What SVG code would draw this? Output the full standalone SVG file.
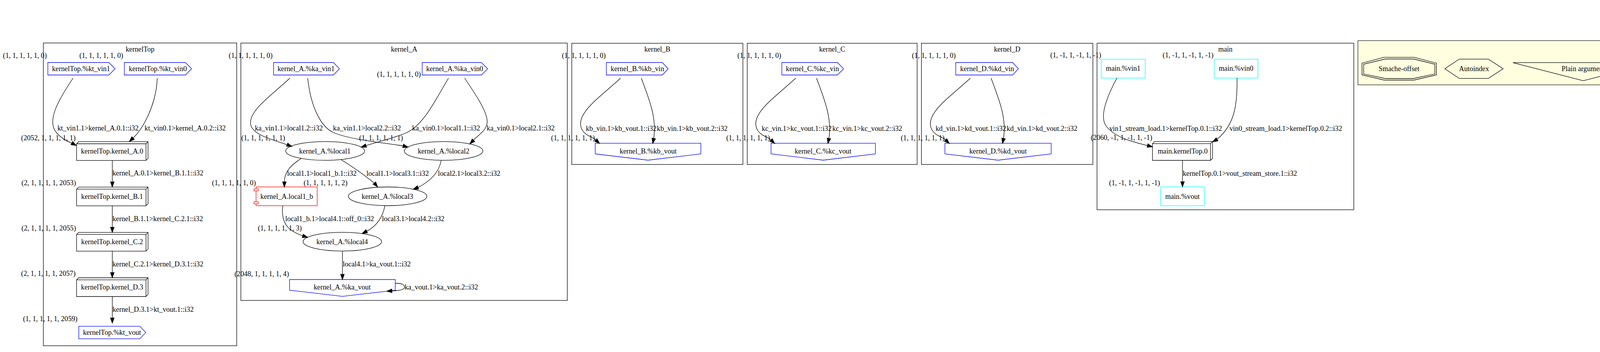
<svg xmlns="http://www.w3.org/2000/svg" width="6599" height="901" viewBox="0 0 6599 901">
<style>
.t{font-family:"Liberation Serif","Times New Roman",Times,serif;font-size:18.2px;fill:#000}
.m{text-anchor:middle}
.e{text-anchor:end}
.cl{fill:none;stroke:#000;stroke-width:1.3}
.ed{fill:none;stroke:#000;stroke-width:1.3}
.ah{fill:#000;stroke:#000;stroke-width:1.3}
.bl{fill:#fff;stroke:#0000ff;stroke-width:1.3}
.cy{fill:#fff;stroke:#00ffff;stroke-width:1.3}
.rd{fill:#fff;stroke:#ff0000;stroke-width:1.3}
.bk{fill:#fff;stroke:#000;stroke-width:1.3}
.ln{fill:none;stroke:#000;stroke-width:1.3}
.lg{fill:none;stroke:#000;stroke-width:1.3}
</style>
<rect x="0" y="0" width="6599" height="901" fill="#fff"/>

<!-- clusters -->
<g id="cluster-kernelTop"><rect class="cl" x="111" y="110" width="495" height="775"/><text class="t m" x="358.5" y="131.5">kernelTop</text></g>
<g id="cluster-kernel_A"><rect class="cl" x="616.6" y="110.3" width="835.7" height="658.7"/><text class="t m" x="1034.5" y="131.5">kernel_A</text></g>
<g id="cluster-kernel_B"><rect class="cl" x="1463.7" y="110.7" width="438.1" height="310.3"/><text class="t m" x="1682.8" y="131.5">kernel_B</text></g>
<g id="cluster-kernel_C"><rect class="cl" x="1912.9" y="110.7" width="434.9" height="310.3"/><text class="t m" x="2130.3" y="131.5">kernel_C</text></g>
<g id="cluster-kernel_D"><rect class="cl" x="2358.9" y="110.7" width="438.8" height="310.3"/><text class="t m" x="2578.3" y="131.5">kernel_D</text></g>
<g id="cluster-main"><rect class="cl" x="2808.4" y="110.5" width="657.3" height="426.4"/><text class="t m" x="3137" y="131.5">main</text></g>
<g id="cluster-legend"><rect x="3476.3" y="104" width="1712.1" height="113.3" fill="#ffffe0" stroke="#222" stroke-width="1.3"/><text class="t m" x="4332.4" y="125.3">Legend</text></g>
<g id="cluster-notes"><rect x="5199.2" y="15.3" width="1383.6" height="289.7" fill="#ffb6c1" stroke="#222" stroke-width="1.3"/><text class="t m" x="5891" y="36.7">Notes</text></g>

<!-- kernelTop nodes -->
<g id="kernelTop_kt_vin1"><polygon class="bl" points="122.5,160 278.6,160 294.7,176 278.6,192 122.5,192"/><text class="t m" x="207.6" y="182">kernelTop.%kt_vin1</text><text class="t m" x="63.7" y="147.5">(1, 1, 1, 1, 1, 0)</text></g>
<g id="kernelTop_kt_vin0"><polygon class="bl" points="318.4,160 474.6,160 490.6,176 474.6,192 318.4,192"/><text class="t m" x="404" y="182">kernelTop.%kt_vin0</text><text class="t m" x="259.3" y="147.5">(1, 1, 1, 1, 1, 0)</text></g>
<g id="kernelTop_kernel_A_0"><polygon class="bk" points="196,368 201.3,362.7 379,362.7 379,405.4 373.7,410.7 196,410.7"/><path class="ln" d="M196,368H373.7L379,362.7M373.7,368V410.7"/><text class="t m" x="287" y="392.7">kernelTop.kernel_A.0</text><text class="t m" x="123.8" y="358.5">(2052, 1, 1, 1, 1, 1)</text></g>
<g id="kernelTop_kernel_B_1"><polygon class="bk" points="196,484.1 201.3,478.8 379,478.8 379,521.5 373.7,526.8 196,526.8"/><path class="ln" d="M196,484.1H373.7L379,478.8M373.7,484.1V526.8"/><text class="t m" x="287" y="508.8">kernelTop.kernel_B.1</text><text class="t m" x="124.8" y="474">(2, 1, 1, 1, 1, 2053)</text></g>
<g id="kernelTop_kernel_C_2"><polygon class="bk" points="196,600.2 201.3,594.9 379,594.9 379,637.6 373.7,642.9 196,642.9"/><path class="ln" d="M196,600.2H373.7L379,594.9M373.7,600.2V642.9"/><text class="t m" x="287" y="624.9">kernelTop.kernel_C.2</text><text class="t m" x="124.8" y="590">(2, 1, 1, 1, 1, 2055)</text></g>
<g id="kernelTop_kernel_D_3"><polygon class="bk" points="196,716.3 201.3,711 379,711 379,753.7 373.7,759 196,759"/><path class="ln" d="M196,716.3H373.7L379,711M373.7,716.3V759"/><text class="t m" x="287" y="741">kernelTop.kernel_D.3</text><text class="t m" x="123.8" y="706">(2, 1, 1, 1, 1, 2057)</text></g>
<g id="kernelTop_kt_vout"><polygon class="bl" points="201.7,835.1 357.8,835.1 373.1,851.1 357.8,867.1 201.7,867.1"/><text class="t m" x="286.8" y="857">kernelTop.%kt_vout</text><text class="t m" x="128.7" y="822">(1, 1, 1, 1, 1, 2059)</text></g>

<!-- kernel_A nodes -->
<g id="kernel_A_ka_vin1"><polygon class="bl" points="700.4,160 853.6,160 869,176 853.6,192 700.4,192"/><text class="t m" x="783.5" y="182">kernel_A.%ka_vin1</text><text class="t m" x="641.7" y="147.5">(1, 1, 1, 1, 1, 0)</text></g>
<g id="kernel_A_ka_vin0"><polygon class="bl" points="1080.7,160 1232.3,160 1248.4,176 1232.3,192 1080.7,192"/><text class="t m" x="1163.9" y="182">kernel_A.%ka_vin0</text><text class="t m" x="1021.3" y="195.5">(1, 1, 1, 1, 1, 0)</text></g>
<g id="kernel_A_local1"><ellipse class="bk" cx="832.4" cy="386.4" rx="101" ry="24"/><text class="t m" x="831.7" y="392.5">kernel_A.%local1</text><text class="t m" x="673.8" y="358.5">(1, 1, 1, 1, 1, 1)</text></g>
<g id="kernel_A_local2"><ellipse class="bk" cx="1135.6" cy="386.4" rx="100.5" ry="24"/><text class="t m" x="1135.6" y="392.5">kernel_A.%local2</text><text class="t m" x="975.6" y="358.5">(1, 1, 1, 1, 1, 1)</text></g>
<g id="kernel_A_local1_b"><rect class="rd" x="655.5" y="478.5" width="156.5" height="48"/><rect class="rd" x="650.2" y="483.5" width="11" height="5"/><rect class="rd" x="650.2" y="516.5" width="11" height="5"/><text class="t m" x="734" y="508.5">kernel_A.local1_b</text><text class="t e" x="655" y="474">(1, 1, 1, 1, 1, 0)</text></g>
<g id="kernel_A_local3"><ellipse class="bk" cx="992.3" cy="502.5" rx="100.5" ry="24"/><text class="t m" x="991.7" y="508.5">kernel_A.%local3</text><text class="t m" x="833.4" y="474">(1, 1, 1, 1, 1, 2)</text></g>
<g id="kernel_A_local4"><ellipse class="bk" cx="876.3" cy="618.6" rx="100.5" ry="24"/><text class="t m" x="876" y="624.7">kernel_A.%local4</text><text class="t m" x="716.4" y="590">(1, 1, 1, 1, 1, 3)</text></g>
<g id="kernel_A_ka_vout"><polygon class="bl" points="741.3,715.5 1011.9,715.5 1011.9,742.8 876.6,758.6 741.3,742.8"/><text class="t m" x="876" y="741">kernel_A.%ka_vout</text><text class="t m" x="670" y="706.5">(2048, 1, 1, 1, 1, 4)</text></g>

<!-- kernel_B/C/D nodes -->
<g id="kernel_B_kb_vin"><polygon class="bl" points="1552.3,160 1695.4,160 1710.5,176 1695.4,192 1552.3,192"/><text class="t m" x="1631.8" y="182">kernel_B.%kb_vin</text><text class="t e" x="1550.7" y="147.5">(1, 1, 1, 1, 1, 0)</text></g>
<g id="kernel_B_kb_vout"><polygon class="bl" points="1523.8,366.7 1794.3,366.7 1794.3,394 1659,410 1523.8,394"/><text class="t m" x="1659.3" y="392.7">kernel_B.%kb_vout</text><text class="t e" x="1523" y="359">(1, 1, 1, 1, 1, 1)</text></g>
<g id="kernel_C_kc_vin"><polygon class="bl" points="2001.5,160 2143.8,160 2159.6,176 2143.8,192 2001.5,192"/><text class="t m" x="2079.8" y="182">kernel_C.%kc_vin</text><text class="t e" x="1999.9" y="147.5">(1, 1, 1, 1, 1, 0)</text></g>
<g id="kernel_C_kc_vout"><polygon class="bl" points="1973.8,366.7 2241.1,366.7 2241.1,394 2107.5,410 1973.8,394"/><text class="t m" x="2107" y="392.7">kernel_C.%kc_vout</text><text class="t e" x="1971.4" y="359">(1, 1, 1, 1, 1, 1)</text></g>
<g id="kernel_D_kd_vin"><polygon class="bl" points="2446.7,160 2592.2,160 2607.2,176 2592.2,192 2446.7,192"/><text class="t m" x="2527" y="182">kernel_D.%kd_vin</text><text class="t e" x="2446.7" y="147.5">(1, 1, 1, 1, 1, 0)</text></g>
<g id="kernel_D_kd_vout"><polygon class="bl" points="2419,366.7 2691,366.7 2691,394 2555,410 2419,394"/><text class="t m" x="2555" y="392.7">kernel_D.%kd_vout</text><text class="t e" x="2418.2" y="359">(1, 1, 1, 1, 1, 1)</text></g>

<!-- main nodes -->
<g id="main_vin1"><rect class="cy" x="2819.1" y="151.6" width="112.5" height="48.2"/><text class="t m" x="2875.3" y="181">main.%vin1</text><text class="t e" x="2819" y="147">(1, -1, 1, -1, 1, -1)</text></g>
<g id="main_vin0"><rect class="cy" x="3108.4" y="151.6" width="112" height="48.2"/><text class="t m" x="3164.4" y="181">main.%vin0</text><text class="t m" x="3041.5" y="147">(1, -1, 1, -1, 1, -1)</text></g>
<g id="main_kernelTop_0"><polygon class="bk" points="2950.4,367.6 2955.7,362.3 3104.1,362.3 3104.1,405.2 3098.8,410.5 2950.4,410.5"/><path class="ln" d="M2950.4,367.6H3098.8L3104.1,362.3M3098.8,367.6V410.5"/><text class="t m" x="3027.7" y="392.7">main.kernelTop.0</text><text class="t m" x="2871" y="358.3">(2060, -1, 1, -1, 1, -1)</text></g>
<g id="main_vout"><rect class="cy" x="2971.2" y="478.4" width="112" height="48.2"/><text class="t m" x="3027.2" y="508.5">main.%vout</text><text class="t m" x="2904.5" y="474.4">(1, -1, 1, -1, 1, -1)</text></g>

<!-- legend nodes -->
<g id="legend_smache"><polygon class="lg" points="3543.3,146.7 3620,146.7 3677.3,161.7 3677.3,191.7 3620,205 3543.3,205 3486.7,191.7 3486.7,161.7"/><polygon class="lg" points="3546.7,151 3618.3,151 3673.3,164.3 3673.3,189.3 3618.3,201 3546.7,201 3491,189.3 3491,164.3"/><text class="t m" x="3581.5" y="182">Smache-offset</text></g>
<g id="legend_autoindex"><polygon class="lg" points="3735.6,151.3 3810.2,151.3 3848,176 3810.2,200.7 3735.6,200.7 3698.8,176"/><text class="t m" x="3773.4" y="182">Autoindex</text></g>
<g id="legend_plain"><polygon class="lg" points="3873,160.3 4233.2,160.3 4053,206.7"/><text class="t m" x="4053" y="182">Plain argument</text></g>
<g id="legend_functional"><polygon class="lg" points="4258,156 4535.6,156 4535.6,184 4396.8,200 4258,184"/><text class="t m" x="4396.5" y="182">Functional argument</text></g>
<g id="legend_expl"><rect class="lg" x="4560.5" y="151.3" width="185.1" height="48.7"/><text class="t m" x="4653" y="182">Expl Memory (alloca)</text></g>
<g id="legend_fcall"><polygon class="lg" points="4769.5,156.6 4774.8,151.3 4926.6,151.3 4926.6,194.7 4921.3,200 4769.5,200"/><path class="ln" d="M4769.5,156.6H4921.3L4926.6,151.3M4921.3,156.6V200"/><text class="t m" x="4845" y="182">Function-call Instr</text></g>
<g id="legend_impl"><ellipse class="lg" cx="5063.2" cy="175.8" rx="114.4" ry="24.2"/><text class="t m" x="5062.6" y="182">Impl Memory (SSA)</text></g>

<!-- notes node -->
<g id="notes_text"><polygon points="5209.5,57.3 6565,57.3 6573,62.7 6573,294.7 5209.5,294.7" fill="#ffb6c1" stroke="#000" stroke-width="1.3"/><polyline points="6565,57.3 6565,62.7 6573,62.7" fill="none" stroke="#000" stroke-width="1.3"/>
<text class="t m" x="5897" y="100">1. The external-labels on the nodes is a tuple showing these 5 attributes: (latency, actual-firing-interval, local-firing-interval, external-firing-interval, firings-per-output, starding delay)</text>
<text class="t m" x="5896" y="120.5">That is: (LAT, AFI, LFI, EFI, FPO, SD)</text>
<text class="t m" x="5895" y="182.5">2. Edges can refer to both explicit and implicit streams.</text>
<text class="t m" x="5900" y="203">Implicit: The source.destination label on the edge matches *both* the source and destination nodes.</text>
<text class="t m" x="5901" y="223.5">Explicit: The source.destination label does not match *one of* the source or destination node. The part that does not match on the edge-label refers to the explicit stream</text>
</g>

<!-- connectors -->
<g id="connectors">
<g id="e_kt1"><path class="ed" d="M187,200 C150,255 118,310 145,340 C155,352 170,361 183.7,366.4"/><polygon class="ah" points="181.5,370.6 185.9,362.2 195.5,372.5"/><text class="t m" x="250.9" y="334">kt_vin1.1&gt;kernel_A.0.1::i32</text></g>
<g id="e_kt2"><path class="ed" d="M402.6,200 C400,270 365,330 340.7,353.3"/><polygon class="ah" points="343.9,356.7 337.5,349.9 331,362.3"/><text class="t m" x="474" y="334">kt_vin0.1&gt;kernel_A.0.2::i32</text></g>
<g id="e_kt3"><path class="ed" d="M287.5,410.7V465.5"/><polygon class="ah" points="282.8,465.5 292.2,465.5 287.5,478.8"/><text class="t" x="288" y="449.3">kernel_A.0.1&gt;kernel_B.1.1::i32</text></g>
<g id="e_kt4"><path class="ed" d="M287.5,526.8V581.6"/><polygon class="ah" points="282.8,581.6 292.2,581.6 287.5,594.9"/><text class="t" x="288" y="565.6">kernel_B.1.1&gt;kernel_C.2.1::i32</text></g>
<g id="e_kt5"><path class="ed" d="M287.5,642.9V697.7"/><polygon class="ah" points="282.8,697.7 292.2,697.7 287.5,711"/><text class="t" x="288" y="682">kernel_C.2.1&gt;kernel_D.3.1::i32</text></g>
<g id="e_kt6"><path class="ed" d="M287.5,759V813.8"/><polygon class="ah" points="282.8,813.8 292.2,813.8 287.5,827.1"/><text class="t" x="288" y="798">kernel_D.3.1&gt;kt_vout.1::i32</text></g>

<g id="e_ka1"><path class="ed" d="M742.1,200 C700,240 640,280 641.4,315 C642,345 700,358 735,370.35"/><polygon class="ah" points="733.4,374.7 736.6,366 747.5,375"/><text class="t m" x="739.4" y="334.2">ka_vin1.1&gt;local1.2::i32</text></g>
<g id="e_ka2"><path class="ed" d="M787.7,200 C795,270 820,325 855,340 C900,358 980,365 1031.9,373.4"/><polygon class="ah" points="1030.75,377.9 1033.05,368.9 1044.8,376.7"/><text class="t m" x="939.5" y="334.2">ka_vin1.1&gt;local2.2::i32</text></g>
<g id="e_ka3"><path class="ed" d="M1148.2,200 C1115,255 1085,320 1040,340 C1010,353 970,362 937,372.7"/><polygon class="ah" points="935.6,368.2 938.4,377.1 924.3,376.7"/><text class="t m" x="1142" y="334.2">ka_vin0.1&gt;local1.1::i32</text></g>
<g id="e_ka4"><path class="ed" d="M1189.4,200 C1220,245 1250,290 1247,315 C1245,335 1222,347 1212.1,358.9"/><polygon class="ah" points="1215.4,362.2 1208.8,355.6 1202.8,368.3"/><text class="t m" x="1333" y="334.2">ka_vin0.1&gt;local2.1::i32</text></g>
<g id="e_ka5"><path class="ed" d="M771.1,405.7 C745,422 728,440 728,465.4"/><polygon class="ah" points="723.3,465.4 732.7,465.4 728,478.7"/><text class="t m" x="823.9" y="449.5">local1.1&gt;local1_b.1::i32</text></g>
<g id="e_ka6"><path class="ed" d="M872,408 C900,425 935,450 958.3,468.5"/><polygon class="ah" points="954.7,471.5 961.9,465.5 966.8,478.7"/><text class="t m" x="1017.9" y="449.5">local1.1&gt;local3.1::i32</text></g>
<g id="e_ka7"><path class="ed" d="M1129.3,411 C1124,440 1105,462 1070.15,479.8"/><polygon class="ah" points="1068.5,475.4 1071.8,484.2 1057.7,484.5"/><text class="t m" x="1201" y="449.5">local2.1&gt;local3.2::i32</text></g>
<g id="e_ka8"><path class="ed" d="M724,526.4 C720,555 728,580 750,592 C758,597 765,600 774.9,603.7"/><polygon class="ah" points="773.6,608.2 776.2,599.2 787.7,607.5"/><text class="t m" x="843.8" y="566">local1_b.1&gt;local4.1::off_0::i32</text></g>
<g id="e_ka9"><path class="ed" d="M985.4,526.4 C980,555 965,578 939,591.9"/><polygon class="ah" points="937,587.7 941,596.1 927,597.7"/><text class="t m" x="1057.7" y="566">local3.1&gt;local4.2::i32</text></g>
<g id="e_ka10"><path class="ed" d="M876.6,642.6V702.2"/><polygon class="ah" points="871.9,702.2 881.3,702.2 876.6,715.5"/><text class="t" x="877.5" y="682">local4.1&gt;ka_vout.1::i32</text></g>
<g id="e_ka11"><path class="ed" d="M1011.9,725.5 C1030,724 1037,730 1035,737 C1033,742 1020,744 1003.3,744.5"/><polygon class="ah" points="1003,739.8 1003.6,749.2 990,745.4"/><text class="t m" x="1129.7" y="740.5">ka_vout.1&gt;ka_vout.2::i32</text></g>

<g id="e_kb1"><path class="ed" d="M1588.7,200 C1535,250 1465,295 1492,335 C1501,348 1516,349.5 1525.2,358.2"/><polygon class="ah" points="1522,361.6 1528.4,354.8 1534.9,367.3"/><text class="t m" x="1590.2" y="335">kb_vin.1&gt;kb_vout.1::i32</text></g>
<g id="e_kb2"><path class="ed" d="M1641.7,200 C1660,250 1682,300 1673.6,354.3"/><polygon class="ah" points="1669,353.4 1678.2,355.2 1670.9,367.3"/><text class="t m" x="1772.1" y="335">kb_vin.1&gt;kb_vout.2::i32</text></g>
<g id="e_kc1"><path class="ed" d="M2037.2,200 C1983.5,250 1913.5,295 1940.5,335 C1949.5,348 1964.5,349.5 1973.7,358.2"/><polygon class="ah" points="1970.5,361.6 1976.9,354.8 1983.4,367.3"/><text class="t m" x="2039.5" y="335">kc_vin.1&gt;kc_vout.1::i32</text></g>
<g id="e_kc2"><path class="ed" d="M2090.2,200 C2108.5,250 2130.5,300 2122.1,354.3"/><polygon class="ah" points="2117.5,353.4 2126.7,355.2 2119.4,367.3"/><text class="t m" x="2220.2" y="335">kc_vin.1&gt;kc_vout.2::i32</text></g>
<g id="e_kd1"><path class="ed" d="M2484.2,200 C2430.5,250 2360.5,295 2387.5,335 C2396.5,348 2411.5,349.5 2420.7,358.2"/><polygon class="ah" points="2417.5,361.6 2423.9,354.8 2430.4,367.3"/><text class="t m" x="2485.5" y="335">kd_vin.1&gt;kd_vout.1::i32</text></g>
<g id="e_kd2"><path class="ed" d="M2537.2,200 C2555.5,250 2577.5,300 2569.1,354.3"/><polygon class="ah" points="2564.5,353.4 2573.7,355.2 2566.4,367.3"/><text class="t m" x="2667.5" y="335">kd_vin.1&gt;kd_vout.2::i32</text></g>

<g id="e_m1"><path class="ed" d="M2859.3,199.8 C2835,245 2815,295 2830,320 C2850,350 2895,362 2937.5,372.6"/><polygon class="ah" points="2936.4,377.1 2938.6,368.1 2950.4,375.7"/><text class="t m" x="2984.1" y="334.5">vin1_stream_load.1&gt;kernelTop.0.1::i32</text></g>
<g id="e_m2"><path class="ed" d="M3166.8,199.8 C3168,270 3160,320 3115.7,356.6"/><polygon class="ah" points="3113.4,352.6 3118,360.7 3104.1,363.2"/><text class="t m" x="3291.6" y="334.5">vin0_stream_load.1&gt;kernelTop.0.2::i32</text></g>
<g id="e_m3"><path class="ed" d="M3027.2,410.5V465.1"/><polygon class="ah" points="3022.5,465.1 3031.9,465.1 3027.2,478.4"/><text class="t" x="3028" y="450">kernelTop.0.1&gt;vout_stream_store.1::i32</text></g>
</g>
</svg>
